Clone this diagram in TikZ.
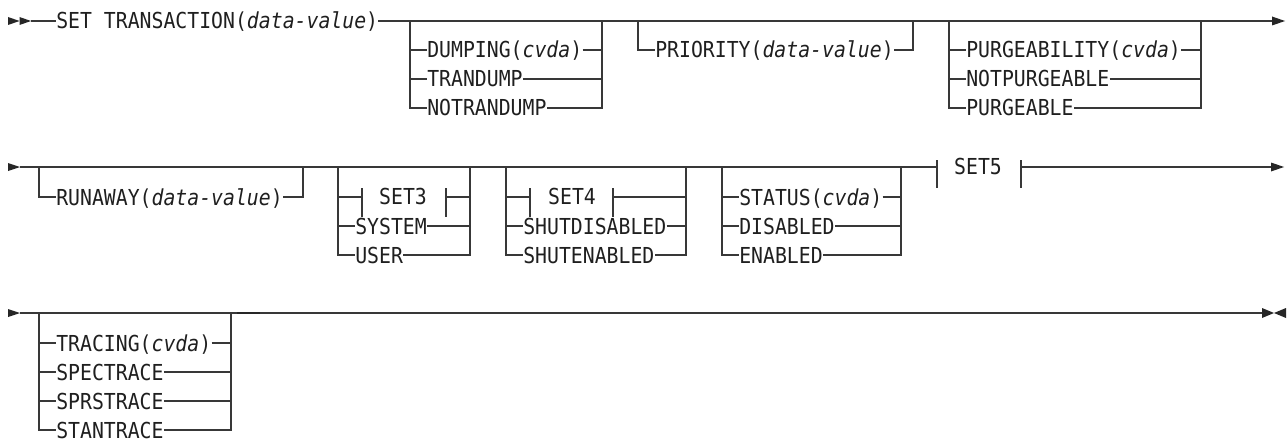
\documentclass[tikz,border=0pt]{standalone}
\usepackage{fontspec}
\newfontfamily\dmono[FakeStretch=0.9]{DejaVu Sans Mono}
\begin{document}
\begin{tikzpicture}[x=0.75pt,y=-0.75pt,
  ln/.style={draw=black!78,line width=0.8pt},
  lbl/.style={anchor=west,inner sep=0pt,text height=12pt,text depth=0pt,
    font=\dmono\fontsize{16.5pt}{18pt}\selectfont,text=black!88},
  ctr/.style={lbl,anchor=center},
  tip/.style={fill=black!85,draw=none}]
\useasboundingbox[fill=white] (0,0) rectangle (1287,442);

% ---------------- Row 1 ----------------
\fill[tip] (8,17) -- (19.5,21) -- (8,25) -- cycle;
\fill[tip] (19.5,17) -- (31,21) -- (19.5,25) -- cycle;
\coordinate (s1) at (31,21);
\node[lbl] (st) at (56,21) {SET TRANSACTION(\textit{data-value})};
\coordinate (e1) at (1272,21);
\draw[ln] (s1) -- (st.west);
\draw[ln] (st.east) -- (e1);
\fill[tip] (1272,16.5) -- (1285,21) -- (1272,25.5) -- cycle;

% DUMPING group
\coordinate (dL) at (410,21); \coordinate (dR) at (602,21);
\node[lbl] (d1) at (427,50) {DUMPING(\textit{cvda})};
\node[lbl] (d2) at (427,79) {TRANDUMP};
\node[lbl] (d3) at (427,108) {NOTRANDUMP};
\draw[ln] (dL) |- (d3.west);
\draw[ln] (d1.west -| dL) -- (d1.west);
\draw[ln] (d2.west -| dL) -- (d2.west);
\draw[ln] (dR) |- (d3.east);
\draw[ln] (d1.east) -- (d1.east -| dR);
\draw[ln] (d2.east) -- (d2.east -| dR);

% PRIORITY group
\coordinate (pL) at (638,21); \coordinate (pR) at (913,21);
\node[lbl] (p1) at (655,50) {PRIORITY(\textit{data-value})};
\draw[ln] (pL) |- (p1.west);
\draw[ln] (pR) |- (p1.east);

% PURGEABILITY group
\coordinate (gL) at (949,21); \coordinate (gR) at (1201,21);
\node[lbl] (g1) at (966,50) {PURGEABILITY(\textit{cvda})};
\node[lbl] (g2) at (966,79) {NOTPURGEABLE};
\node[lbl] (g3) at (966,108) {PURGEABLE};
\draw[ln] (gL) |- (g3.west);
\draw[ln] (g1.west -| gL) -- (g1.west);
\draw[ln] (g2.west -| gL) -- (g2.west);
\draw[ln] (gR) |- (g3.east);
\draw[ln] (g1.east) -- (g1.east -| gR);
\draw[ln] (g2.east) -- (g2.east -| gR);

% ---------------- Row 2 ----------------
\fill[tip] (8,163) -- (20,167) -- (8,171) -- cycle;
\coordinate (s2) at (20,167);
\coordinate (b5a) at (937,167);
\coordinate (b5b) at (1021,167);
\coordinate (e2) at (1271,167);
\draw[ln] (s2) -- (b5a);
\draw[ln] (b5a) ++(0,-7) -- ++(0,28);
\node[ctr] (set5) at (978,166) {SET5};
\draw[ln] (b5b) ++(0,-7) -- ++(0,28);
\draw[ln] (b5b) -- (e2);
\fill[tip] (1271,162.5) -- (1284,167) -- (1271,171.5) -- cycle;

% RUNAWAY group
\coordinate (rL) at (39,167); \coordinate (rR) at (303,167);
\node[lbl] (r1) at (56,197) {RUNAWAY(\textit{data-value})};
\draw[ln] (rL) |- (r1.west);
\draw[ln] (rR) |- (r1.east);

% SET3 group
\coordinate (aL) at (338,167); \coordinate (aR) at (470,167);
\coordinate (b3a) at (362,197); \coordinate (b3b) at (446,197);
\node[ctr] (set3) at (403,196) {SET3};
\node[lbl] (a2) at (355,226) {SYSTEM};
\node[lbl] (a3) at (355,255) {USER};
\draw[ln] (aL) |- (a3.west);
\draw[ln] (b3a -| aL) -- (b3a);
\draw[ln] (b3a) ++(0,-9) -- ++(0,29);
\draw[ln] (b3b) ++(0,-9) -- ++(0,29);
\draw[ln] (b3b) -- (b3b -| aR);
\draw[ln] (a2.west -| aL) -- (a2.west);
\draw[ln] (aR) |- (a3.east);
\draw[ln] (a2.east) -- (a2.east -| aR);

% SET4 group
\coordinate (cL) at (506,167); \coordinate (cR) at (686,167);
\coordinate (b4a) at (530,197); \coordinate (b4b) at (613,197);
\node[ctr] (set4) at (572,196) {SET4};
\node[lbl] (c2) at (523,226) {SHUTDISABLED};
\node[lbl] (c3) at (523,255) {SHUTENABLED};
\draw[ln] (cL) |- (c3.west);
\draw[ln] (b4a -| cL) -- (b4a);
\draw[ln] (b4a) ++(0,-9) -- ++(0,29);
\draw[ln] (b4b) ++(0,-9) -- ++(0,29);
\draw[ln] (b4b) -- (b4b -| cR);
\draw[ln] (c2.west -| cL) -- (c2.west);
\draw[ln] (cR) |- (c3.east);
\draw[ln] (c2.east) -- (c2.east -| cR);

% STATUS group
\coordinate (tL) at (722,167); \coordinate (tR) at (901,167);
\node[lbl] (t1) at (739,197) {STATUS(\textit{cvda})};
\node[lbl] (t2) at (739,226) {DISABLED};
\node[lbl] (t3) at (739,255) {ENABLED};
\draw[ln] (tL) |- (t3.west);
\draw[ln] (t1.west -| tL) -- (t1.west);
\draw[ln] (t2.west -| tL) -- (t2.west);
\draw[ln] (tR) |- (t3.east);
\draw[ln] (t1.east) -- (t1.east -| tR);
\draw[ln] (t2.east) -- (t2.east -| tR);

% ---------------- Row 3 ----------------
\fill[tip] (8,309) -- (20,313) -- (8,317) -- cycle;
\coordinate (s3) at (20,313);
\coordinate (e3) at (1262,313);
\draw[ln] (s3) -- (e3);
\draw[draw=black!85,line width=1.8pt] (237,313) -- (260,313);
\fill[tip] (1262,308) -- (1274,313) -- (1262,318) -- cycle;
\fill[tip] (1286,308) -- (1274,313) -- (1286,318) -- cycle;

% TRACING group
\coordinate (xL) at (39,313); \coordinate (xR) at (231,313);
\node[lbl] (x1) at (56,343) {TRACING(\textit{cvda})};
\node[lbl] (x2) at (56,372) {SPECTRACE};
\node[lbl] (x3) at (56,401) {SPRSTRACE};
\node[lbl] (x4) at (56,430) {STANTRACE};
\draw[ln] (xL) |- (x4.west);
\draw[ln] (x1.west -| xL) -- (x1.west);
\draw[ln] (x2.west -| xL) -- (x2.west);
\draw[ln] (x3.west -| xL) -- (x3.west);
\draw[ln] (xR) |- (x4.east);
\draw[ln] (x1.east) -- (x1.east -| xR);
\draw[ln] (x2.east) -- (x2.east -| xR);
\draw[ln] (x3.east) -- (x3.east -| xR);
\end{tikzpicture}
\end{document}
